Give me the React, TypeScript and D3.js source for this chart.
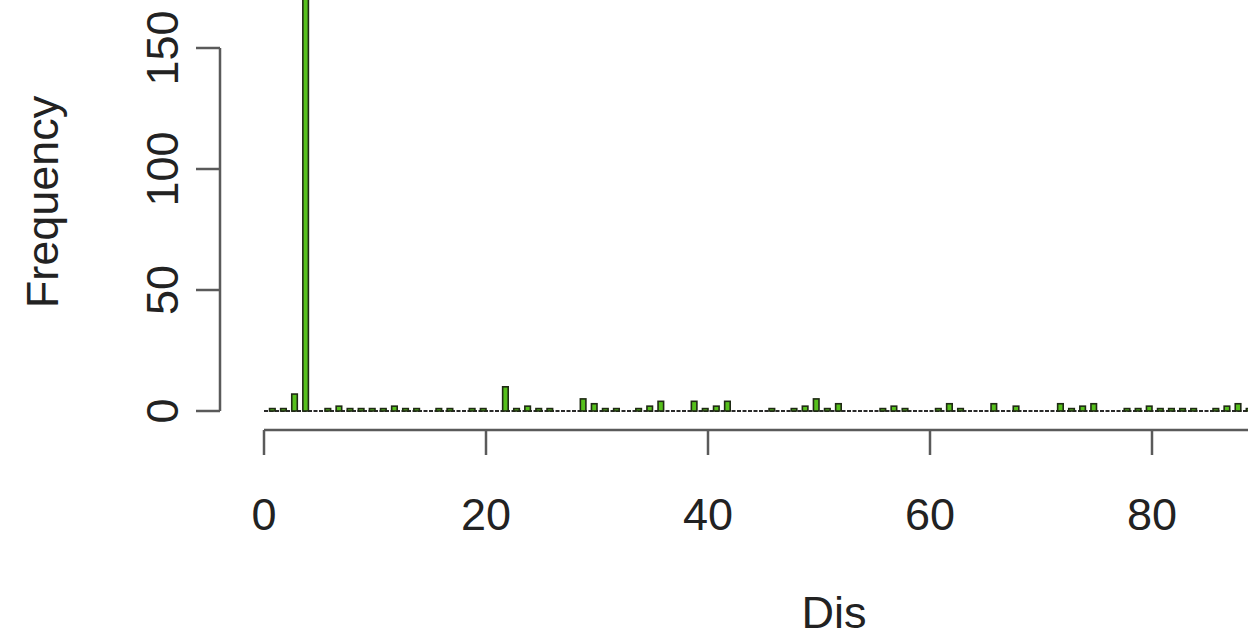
import React from "react";
import * as d3 from "d3";

// Histogram of "Dis": bins of width 0.5, counts for integer values k fall in (k-0.5, k]
const disValues = [
  1, 2, 3, 4, 5, 6, 7, 8, 9, 10, 11, 12, 13, 14, 15, 16, 17, 18, 19, 20,
  21, 22, 23, 24, 25, 26, 27, 28, 29, 30, 31, 32, 33, 34, 35, 36, 37, 38, 39, 40,
  41, 42, 43, 44, 45, 46, 47, 48, 49, 50, 51, 52, 53, 54, 55, 56, 57, 58, 59, 60,
  61, 62, 63, 64, 65, 66, 67, 68, 69, 70, 71, 72, 73, 74, 75, 76, 77, 78, 79, 80,
  81, 82, 83, 84, 85, 86, 87, 88, 89, 90, 91, 92, 93, 94, 95, 96, 97, 98, 99, 100,
];
const disCounts = [
  1, 1, 7, 174, 0, 1, 2, 1, 1, 1, 1, 2, 1, 1, 0, 1, 1, 0, 1, 1,
  0, 10, 1, 2, 1, 1, 0, 0, 5, 3, 1, 1, 0, 1, 2, 4, 0, 0, 4, 1,
  2, 4, 0, 0, 0, 1, 0, 1, 2, 5, 1, 3, 0, 0, 0, 1, 2, 1, 0, 0,
  1, 3, 1, 0, 0, 3, 0, 2, 0, 0, 0, 3, 1, 2, 3, 0, 0, 1, 1, 2,
  1, 1, 1, 1, 0, 1, 2, 3, 1, 0, 1, 1, 0, 1, 1, 0, 1, 0, 1, 0,
];
const binWidth = 0.5;
const xTicks = [0, 20, 40, 60, 80, 100];
const yTicks = [0, 50, 100, 150];
const xLabel = "Dis";
const yLabel = "Frequency";

export default function App() {
  const W = 1248;
  const H = 637;
  const x = d3.scaleLinear().domain([0, 20]).range([264, 486]);
  const y = d3.scaleLinear().domain([0, 150]).range([411, 48]);
  const font = "'Liberation Sans', Arial, Helvetica, sans-serif";
  const fs = 45;

  // build all bins (including zero-count ones) from 0 to 100
  const bins: { x0: number; x1: number; n: number }[] = [];
  for (let b = 0; b < 200; b++) {
    const x0 = b * binWidth;
    const x1 = x0 + binWidth;
    const idx = disValues.indexOf(x1);
    bins.push({ x0, x1, n: idx >= 0 ? disCounts[idx] : 0 });
  }

  return (
    <svg
      width={W}
      height={H}
      style={{ position: "absolute", left: 0, top: 0, background: "#fff", overflow: "hidden" }}
    >
      {/* zero-height bins draw as a baseline */}
      <line
        x1={x(0)}
        x2={x(100)}
        y1={y(0)}
        y2={y(0)}
        stroke="#2a2a2a"
        strokeWidth={1.8}
        strokeDasharray="4 1.5"
      />
      {/* bars */}
      <g>
        {bins
          .filter((b) => b.n > 0)
          .map((b, i) => (
            <rect
              key={i}
              x={x(b.x0)}
              y={y(b.n)}
              width={x(b.x1) - x(b.x0)}
              height={y(0) - y(b.n)}
              fill="#56c01c"
              stroke="#1f2a14"
              strokeWidth={1.6}
            />
          ))}
      </g>

      {/* x axis */}
      <g stroke="#5a5a5a" strokeWidth={2.5}>
        <line x1={x(xTicks[0])} x2={x(xTicks[xTicks.length - 1])} y1={430} y2={430} />
        {xTicks.map((t) => (
          <line key={t} x1={x(t)} x2={x(t)} y1={430} y2={455} />
        ))}
      </g>
      {xTicks
        .filter((t) => x(t) < W)
        .map((t) => (
          <text
            key={"xl" + t}
            x={x(t)}
            y={530}
            textAnchor="middle"
            fontFamily={font}
            fontSize={fs}
            fill="#222"
          >
            {t}
          </text>
        ))}

      {/* y axis */}
      <g stroke="#5a5a5a" strokeWidth={2.5}>
        <line x1={220} x2={220} y1={y(0)} y2={y(150)} />
        {yTicks.map((t) => (
          <line key={t} x1={196} x2={220} y1={y(t)} y2={y(t)} />
        ))}
      </g>
      {yTicks.map((t) => (
        <text
          key={"yl" + t}
          transform={`translate(178,${y(t)}) rotate(-90)`}
          textAnchor="middle"
          fontFamily={font}
          fontSize={fs}
          fill="#222"
        >
          {t}
        </text>
      ))}

      {/* axis titles */}
      <text x={834} y={628} textAnchor="middle" fontFamily={font} fontSize={fs} fill="#222">
        {xLabel}
      </text>
      <text
        transform={`translate(58,202) rotate(-90)`}
        textAnchor="middle"
        fontFamily={font}
        fontSize={fs}
        fill="#222"
      >
        {yLabel}
      </text>
    </svg>
  );
}
